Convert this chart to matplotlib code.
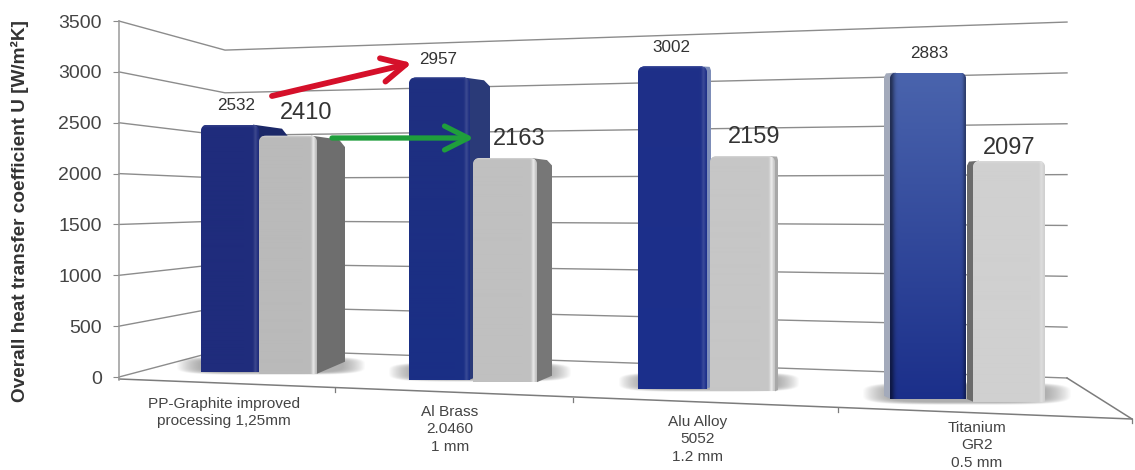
import numpy as np
import matplotlib
matplotlib.use("Agg")
import matplotlib.pyplot as plt
from matplotlib.patches import FancyBboxPatch, Polygon

plt.rcParams['font.family'] = ['Liberation Sans', 'DejaVu Sans']

# ---- data ----
categories = ["PP-Graphite improved\nprocessing 1,25mm", "Al Brass\n2.0460\n1 mm",
              "Alu Alloy\n5052\n1.2 mm", "Titanium\nGR2\n0.5 mm"]
blue_values = [2532, 2957, 3002, 2883]
grey_values = [2410, 2163, 2159, 2097]
y_ticks = [0, 500, 1000, 1500, 2000, 2500, 3000, 3500]
y_title = "Overall heat transfer coefficient U [W/m²K]"

# ---- layout (pixels of the picture) ----
W, H = 1135, 470
PX_PER_UNIT = 0.1017
Y0_PX = 377
blue_l, blue_r = [201, 409, 638, 890], [259, 470, 707, 966]
grey_l, grey_r = [259, 473, 710, 973], [317, 537, 775, 1045]
blue_dx = [29, 20, 4, -6]
grey_dx = [28, 15, 3, -6]
blue_side = ['#1b2868', '#2a3a78', '#7d8db8', '#a3aabb']
grey_side = ['#6e6e6e', '#777777', '#a8a8a8', '#6b6b6b']
blue_top_col = ['#1f2c7c', '#1f2f80', '#1f3088', '#4a64ad']
blue_bot_col = ['#1f2c7c', '#1a2f86', '#1b2f8c', '#1b2f8a']
grey_col = ['#bababa', '#c0c0c0', '#c6c6c6', '#d0d0d0']
blue_lab_xy = [(236, 106), (438, 59), (671, 47), (929, 54)]
grey_lab_xy = [(306, 113), (519, 139), (754, 137), (1009, 148)]
cat_xy = [(224, 405), (450, 413), (698, 423), (977, 429)]
shadows = [(176, 366, 356, 375), (388, 572, 362, 382), (618, 800, 372, 392), (862, 1072, 382, 405)]


def Y(py):
    return (Y0_PX - np.asarray(py, dtype=float)) / PX_PER_UNIT


def floor_px(xc):
    return 362.6 + 0.0387 * xc


def scale_px(xc):
    return 0.0975 + 2.23e-5 * (xc - 230)


fig = plt.figure(figsize=(W / 100, H / 100), dpi=100)
ax = fig.add_axes([0, 0, 1, 1])
aspect = 1 / PX_PER_UNIT

# ---- axis ----
for s in ['top', 'right', 'bottom']:
    ax.spines[s].set_visible(False)
ax.spines['left'].set_position(('data', 119))
ax.spines['left'].set_bounds(Y(380), 3500)
ax.spines['left'].set_color('#9a9a9a')
ax.spines['left'].set_linewidth(1.1)
ax.set_xticks([])
ax.set_yticks(y_ticks)
ax.tick_params(axis='y', length=4.3, width=0.8, color='#8a8a8a', pad=8, labelsize=14, labelcolor='#444444')
ax.set_facecolor('white')

ax.text(20, Y(211), y_title, rotation=90, ha='center', va='center', fontsize=13.7,
        fontweight='bold', color='#333333')

# ---- walls and floor ----
gc = '#8c8c8c'
for v in y_ticks:
    py_right = 378 - 0.1017 * v
    py_corner = 349 - 0.0854 * v
    ax.plot([119, 225, 1067], [v, Y(py_corner), Y(py_right)], color=gc, lw=1.0, zorder=1, solid_joinstyle='miter')
ax.plot([119, 1132], [Y(379), Y(419)], color='#7c7c7c', lw=1.1, zorder=1)
ax.plot([1067, 1132], [Y(378), Y(419)], color='#7c7c7c', lw=1.1, zorder=1)
for tx, ty in [(335, 388), (573, 398), (838, 408), (1132, 419)]:
    ax.plot([tx, tx], [Y(ty), Y(ty + 4)], color='#7c7c7c', lw=0.9, zorder=1)

# ---- soft floor shadows ----
for x0, x1, y0, y1 in shadows:
    gx, gy = np.meshgrid(np.linspace(-1, 1, 160), np.linspace(-1, 1, 60))
    a = np.clip((1 - gx ** 4 - gy ** 4) * 1.5, 0, 1) * 0.5
    img = np.zeros(a.shape + (4,))
    img[..., :3] = 0.38
    img[..., 3] = a
    ax.imshow(img, extent=[x0, x1, Y(y1), Y(y0)], aspect='auto', zorder=1.5, interpolation='bilinear')


def hex_rgb(c):
    return np.array(matplotlib.colors.to_rgb(c))


def draw_bar(i, left, right, value, c_top, c_bot, dx, side_col, z, highlight, dark_edges=False):
    xc = (left + right) / 2
    sc = scale_px(xc)
    bottom_py = floor_px(xc)
    top_py = bottom_py - value * sc
    # depth face
    xb = right + dx if dx > 0 else left + dx
    xf = right if dx > 0 else left
    sgn = 1 if dx > 0 else -1
    rise = abs(dx) * 0.43
    pts = [(xf - sgn * 6, top_py), (xb - sgn * min(6, abs(dx) / 3), top_py + abs(dx) * 0.14),
           (xb, top_py + abs(dx) * 0.3 + 3), (xb, bottom_py - rise), (xf, bottom_py)]
    ax.add_patch(Polygon([(p[0], Y(p[1])) for p in pts], closed=True, fc=side_col, ec='none', zorder=z))
    # front face: a real bar, clipped to a rounded outline
    clip = FancyBboxPatch((left, Y(bottom_py + 10)), right - left, Y(top_py) - Y(bottom_py + 10),
                          boxstyle="round,pad=0,rounding_size=7", mutation_aspect=aspect,
                          fc='none', ec='none', transform=ax.transData)
    ax.add_patch(clip)
    bars = ax.bar(xc, value * sc / PX_PER_UNIT, width=right - left, bottom=Y(bottom_py), color=c_bot, zorder=z + 0.1)
    bars[0].set_clip_path(clip)
    # shading of the front
    nx, ny = max(int(right - left), 2), max(int(bottom_py - top_py), 2)
    t = np.linspace(0, 1, ny)[:, None, None]
    img = np.ones((ny, nx, 3)) * (hex_rgb(c_top) * (1 - t) + hex_rgb(c_bot) * t)
    u = np.arange(nx)[None, :, None]
    img = img + highlight * np.exp(-((u - (nx - 4)) / 1.8) ** 2) * (1 - img)
    img = img + highlight * 0.6 * np.exp(-(np.arange(ny)[:, None, None] / 1.5) ** 2) * (1 - img)
    if dark_edges:
        edge = np.exp(-(u / 4.0) ** 2) + 0.7 * np.exp(-((u - nx + 1) / 2.5) ** 2)
        img = img * (1 - 0.5 * np.clip(edge, 0, 1))
    im = ax.imshow(np.clip(img, 0, 1), extent=[left, right, Y(bottom_py), Y(top_py)], aspect='auto',
                   zorder=z + 0.2, interpolation='bilinear')
    im.set_clip_path(clip)


for i in range(4):
    z = 2 + i * 2
    if i == 3:
        draw_bar(i, grey_l[i], grey_r[i], grey_values[i], grey_col[i], grey_col[i], grey_dx[i], grey_side[i], z, 0.25)
        draw_bar(i, blue_l[i], blue_r[i], blue_values[i], blue_top_col[i], blue_bot_col[i], blue_dx[i], blue_side[i],
                 z + 1, 0.0, dark_edges=True)
    else:
        draw_bar(i, blue_l[i], blue_r[i], blue_values[i], blue_top_col[i], blue_bot_col[i], blue_dx[i], blue_side[i], z, 0.12)
        draw_bar(i, grey_l[i], grey_r[i], grey_values[i], grey_col[i], grey_col[i], grey_dx[i], grey_side[i], z + 1, 0.6)

# ---- value labels ----
for v, (x, y) in zip(blue_values, blue_lab_xy):
    ax.text(x, Y(y), str(v), ha='center', va='center', fontsize=12.3, color='#333333', zorder=20)
for v, (x, y) in zip(grey_values, grey_lab_xy):
    ax.text(x, Y(y), str(v), ha='center', va='center', fontsize=17, color='#333333', zorder=20)

# ---- category labels ----
for c, (x, y) in zip(categories, cat_xy):
    ax.text(x, Y(y - 8), c, ha='center', va='top', fontsize=11.1, color='#444444', linespacing=1.3, zorder=20)

# ---- arrows ----
ax.annotate('', xy=(412, Y(63)), xytext=(272, Y(96)), zorder=21,
            arrowprops=dict(arrowstyle='->,head_length=0.85,head_width=0.43', color='#d5102a', lw=4.2,
                            shrinkA=0, shrinkB=0, mutation_scale=20))
ax.annotate('', xy=(474, Y(138)), xytext=(332, Y(138)), zorder=21,
            arrowprops=dict(arrowstyle='->,head_length=0.85,head_width=0.43', color='#1f9e3c', lw=3.8,
                            shrinkA=0, shrinkB=0, mutation_scale=20))

ax.set_xlim(0, W)
ax.set_ylim(Y(H), Y(0))
fig.savefig('out.png', dpi=100, facecolor='white')
